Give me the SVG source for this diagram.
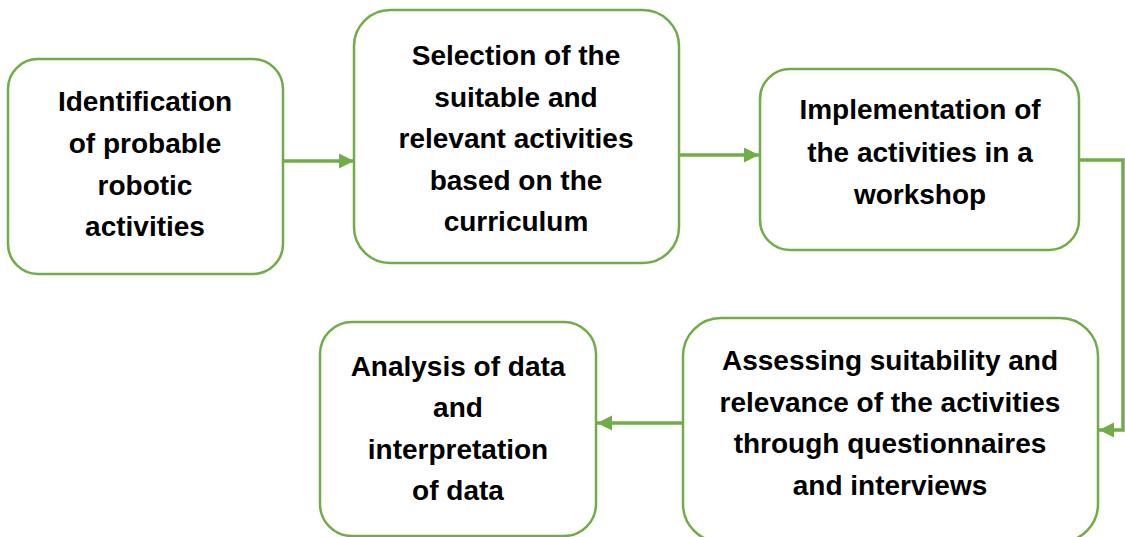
<svg xmlns="http://www.w3.org/2000/svg" width="1125" height="537" viewBox="0 0 1125 537">
<style>
.box{fill:#fff;stroke:#70AD47;stroke-width:2.5}
.t{font-family:"Liberation Sans",Arial,sans-serif;font-weight:bold;font-size:28px;fill:#000;text-anchor:middle}
.c{fill:none;stroke:#70AD47;stroke-width:3.5}
</style>
<defs>
<marker id="ah" markerUnits="userSpaceOnUse" markerWidth="16" markerHeight="16" refX="15" refY="7.5" orient="auto">
<path d="M0,0 L15,7.5 L0,15 z" fill="#70AD47"/>
</marker>
</defs>
<rect width="1125" height="537" fill="#fff"/>
<g id="connectors">
<line class="c" x1="283" y1="161" x2="354" y2="161" marker-end="url(#ah)"/>
<line class="c" x1="680" y1="155" x2="759" y2="155" marker-end="url(#ah)"/>
<polyline class="c" points="1080,160 1123,160 1123,430 1099,430" marker-end="url(#ah)"/>
<line class="c" x1="683" y1="423" x2="597" y2="423" marker-end="url(#ah)"/>
</g>
<g id="n1">
<rect class="box" x="8" y="59" width="275" height="215" rx="30"/>
<text class="t"><tspan x="145" y="111">Identification</tspan><tspan x="145" y="153">of probable</tspan><tspan x="145" y="195">robotic</tspan><tspan x="145" y="236">activities</tspan></text>
</g>
<g id="n2">
<rect class="box" x="354" y="10" width="325" height="253" rx="36"/>
<text class="t"><tspan x="516" y="65">Selection of the</tspan><tspan x="516" y="107">suitable and</tspan><tspan x="516" y="148">relevant activities</tspan><tspan x="516" y="190">based on the</tspan><tspan x="516" y="231">curriculum</tspan></text>
</g>
<g id="n3">
<rect class="box" x="760" y="69" width="319" height="181" rx="30"/>
<text class="t"><tspan x="920" y="119">Implementation of</tspan><tspan x="920" y="162">the activities in a</tspan><tspan x="920" y="204">workshop</tspan></text>
</g>
<g id="n5">
<rect class="box" x="683" y="318" width="415" height="224" rx="38"/>
<text class="t"><tspan x="890" y="370">Assessing suitability and</tspan><tspan x="890" y="412">relevance of the activities</tspan><tspan x="890" y="453">through questionnaires</tspan><tspan x="890" y="495">and interviews</tspan></text>
</g>
<g id="n4">
<rect class="box" x="320" y="322" width="276" height="214" rx="32"/>
<text class="t"><tspan x="458" y="376">Analysis of data</tspan><tspan x="458" y="417">and</tspan><tspan x="458" y="459">interpretation</tspan><tspan x="458" y="500">of data</tspan></text>
</g>
</svg>
